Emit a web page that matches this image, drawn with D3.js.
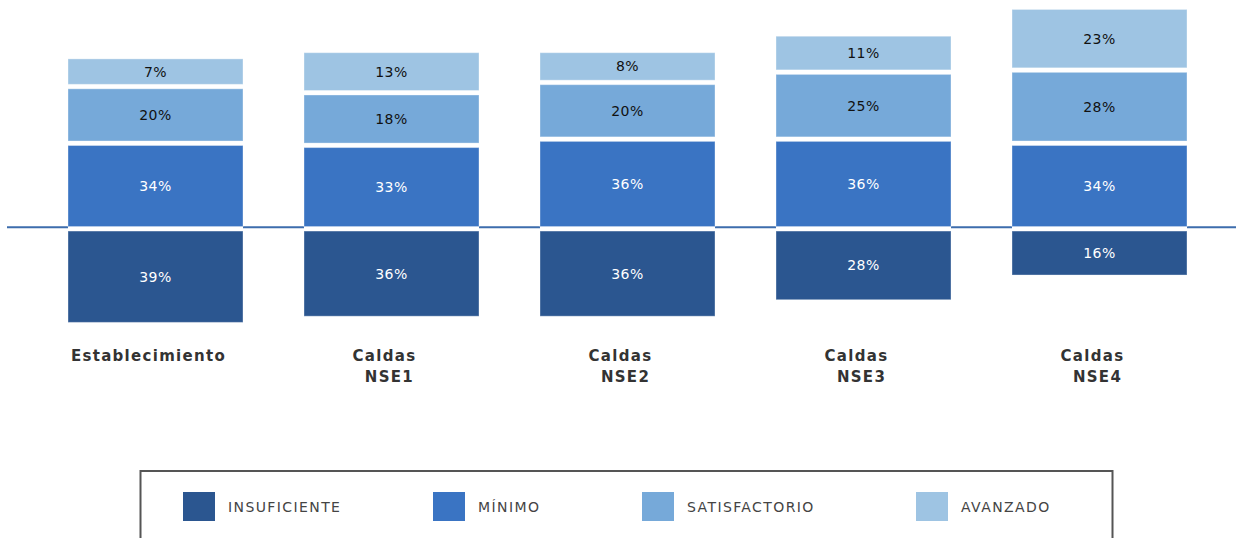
<!DOCTYPE html>
<html>
<head>
<meta charset="utf-8">
<script src="https://cdn.jsdelivr.net/npm/d3@7"></script>
<style>
  body { margin: 0; background: #fff; }
  svg { display: block; }
</style>
</head>
<body>
<svg width="1236" height="538"></svg>
<script>
var categories = ["Establecimiento", "Caldas\n NSE1", "Caldas\n NSE2", "Caldas\n NSE3", "Caldas\n NSE4"];
var insuficiente  = [39, 36, 36, 28, 16];
var minimo        = [34, 33, 36, 36, 34];
var satisfactorio = [20, 18, 20, 25, 28];
var avanzado      = [7, 13, 8, 11, 23];
var levels = ["INSUFICIENTE", "MÍNIMO", "SATISFACTORIO", "AVANZADO"];

var svg = d3.select("svg");
var width = 1236, height = 538;

var colors = ["#2b5690", "#3a74c3", "#76a9d9", "#9ec4e3"];
var labelColors = ["#ffffff", "#ffffff", "#111111", "#111111"];

var x = d3.scaleBand()
    .domain(categories)
    .range([68, 1187])
    .paddingInner(0.2585)
    .paddingOuter(0);

// segment height in px for a given percentage
var segH = d3.scaleLinear().domain([0, 100]).range([11, 217]);
var gap = 4.5;
var zeroY = 228.8;

// baseline
svg.append("line")
  .attr("x1", 7).attr("x2", width)
  .attr("y1", 227.3).attr("y2", 227.3)
  .style("stroke", "#3d6dad")
  .style("stroke-width", 2);

// build segments
var segs = [];
categories.forEach(function(c, i) {
  // below zero
  var top = zeroY + gap / 2;
  segs.push({ cat: c, lvl: 0, v: insuficiente[i], y: top, h: segH(insuficiente[i]) });
  // above zero stacked upward
  var bottom = zeroY - gap / 2;
  [minimo[i], satisfactorio[i], avanzado[i]].forEach(function(v, k) {
    var h = segH(v);
    segs.push({ cat: c, lvl: k + 1, v: v, y: bottom - h, h: h });
    bottom = bottom - h - gap;
  });
});

var gBars = svg.append("g");

// white gap over the baseline inside each bar
gBars.selectAll("rect.gap")
  .data(categories)
  .enter()
  .append("rect")
  .attr("class", "gap")
  .attr("x", function(d) { return x(d); })
  .attr("width", x.bandwidth())
  .attr("y", zeroY - gap / 2 - 0.5)
  .attr("height", gap + 1)
  .attr("fill", "#fff");

gBars.selectAll("rect.seg")
  .data(segs)
  .enter()
  .append("rect")
  .attr("class", "seg")
  .attr("x", function(d) { return x(d.cat); })
  .attr("width", x.bandwidth())
  .attr("y", function(d) { return d.y; })
  .attr("height", function(d) { return d.h; })
  .attr("fill", function(d) { return colors[d.lvl]; })
  .style("stroke", "rgba(255,255,255,0.35)")
  .style("stroke-width", 1);

gBars.selectAll("text.val")
  .data(segs)
  .enter()
  .append("text")
  .attr("class", "val")
  .attr("x", function(d) { return x(d.cat) + x.bandwidth() / 2; })
  .attr("y", function(d) { return d.y + d.h / 2 + 5; })
  .attr("text-anchor", "middle")
  .style("font-family", "DejaVu Sans, sans-serif")
  .style("font-size", "14px")
  .style("letter-spacing", "0.5px")
  .attr("fill", function(d) { return labelColors[d.lvl]; })
  .text(function(d) { return d.v + "%"; });

// category labels
var gCat = svg.append("g");
categories.forEach(function(c) {
  var lines = c.split("\n");
  var cx = x(c) + x.bandwidth() / 2;
  lines.forEach(function(t, j) {
    gCat.append("text")
      .attr("x", cx - (j === 0 ? 7 : 2))
      .attr("y", 361 + j * 21)
      .attr("text-anchor", "middle")
      .style("font-family", "DejaVu Sans, sans-serif")
      .style("font-weight", "bold")
      .style("font-size", "15px")
      .style("letter-spacing", "1.3px")
      .attr("fill", "#333")
      .text(t.trim());
  });
});

// legend
var legendX = [183, 433, 642, 916];
var gLeg = svg.append("g");
gLeg.append("rect")
  .attr("x", 140.5).attr("y", 471)
  .attr("width", 972).attr("height", 120)
  .attr("fill", "none")
  .style("stroke", "#555")
  .style("stroke-width", 2);

var items = gLeg.selectAll("g.item")
  .data(levels)
  .enter()
  .append("g")
  .attr("class", "item")
  .attr("transform", function(d, i) { return "translate(" + legendX[i] + ",492)"; });

items.append("rect")
  .attr("width", 32).attr("height", 29)
  .attr("fill", function(d, i) { return colors[i]; });

items.append("text")
  .attr("x", 45)
  .attr("y", 19.5)
  .style("font-family", "DejaVu Sans, sans-serif")
  .style("font-size", "14px")
  .style("letter-spacing", "1.4px")
  .attr("fill", "#444")
  .text(function(d) { return d; });
</script>
</body>
</html>
